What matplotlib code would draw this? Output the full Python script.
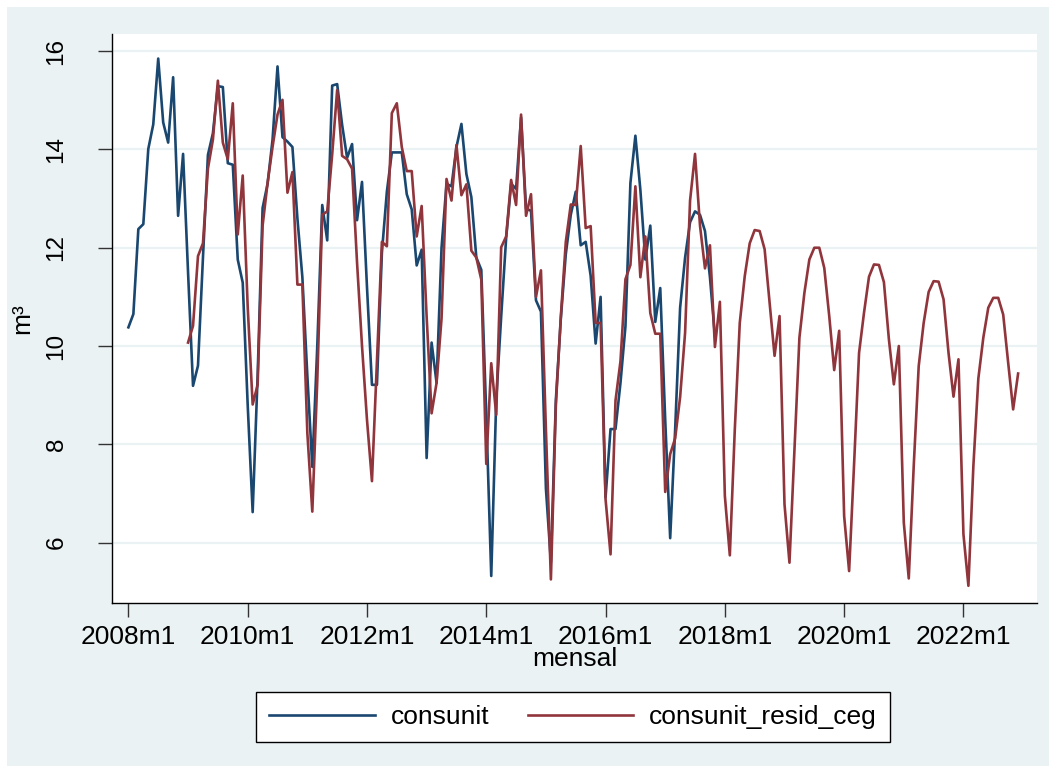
import matplotlib
matplotlib.use("Agg")
import matplotlib.pyplot as plt
from matplotlib.patches import Rectangle
from matplotlib.lines import Line2D
import numpy as np

plt.rcParams['font.family'] = ['Liberation Sans', 'DejaVu Sans']

# ---------------- data ----------------
tick_labels = ["2008m1", "2010m1", "2012m1", "2014m1", "2016m1",
               "2018m1", "2020m1", "2022m1"]
y_ticks = [6, 8, 10, 12, 14, 16]

# consunit: monthly, starting 2008m1
consunit_start = 0  # months after 2008m1
consunit = [
    10.38, 10.65, 12.38, 12.48, 14.01, 14.51, 15.85, 14.55, 14.14, 15.47, 12.65, 13.91,  # 2008
    11.50, 9.19, 9.60, 11.80, 13.89, 14.33, 15.29, 15.27, 13.72, 13.69, 11.76, 11.29,    # 2009
    8.80, 6.62, 9.40, 12.81, 13.30, 14.20, 15.69, 14.25, 14.16, 14.05, 12.60, 11.40,     # 2010
    9.40, 7.54, 10.00, 12.87, 12.15, 15.30, 15.33, 14.50, 13.83, 14.11, 12.56, 13.34,    # 2011
    11.20, 9.21, 9.21, 11.90, 13.14, 13.94, 13.94, 13.94, 13.09, 12.78, 11.64, 11.96,    # 2012
    7.72, 10.07, 9.25, 12.00, 13.30, 13.25, 14.05, 14.52, 13.50, 13.03, 11.80, 11.55,    # 2013
    8.60, 5.32, 8.90, 10.60, 12.20, 13.30, 13.20, 14.65, 12.80, 12.75, 10.93, 10.70,     # 2014
    7.10, 5.60, 8.90, 10.56, 11.87, 12.67, 13.14, 12.05, 12.12, 11.43, 10.05, 11.00,     # 2015
    6.92, 8.31, 8.31, 9.25, 10.40, 13.32, 14.28, 13.18, 11.76, 12.45, 10.49, 11.18,      # 2016
    8.50, 6.09, 8.30, 10.78, 11.80, 12.52, 12.74, 12.67, 12.34, 11.40, 10.20,            # 2017
]

# consunit_resid_ceg: monthly, starting 2009m1
resid_start = 12  # months after 2008m1
consunit_resid_ceg = [
    10.07, 10.41, 11.83, 12.09, 13.61, 14.20, 15.40, 14.14, 13.80, 14.94, 12.27, 13.47,  # 2009
    10.80, 8.81, 9.21, 12.45, 13.32, 14.05, 14.71, 15.01, 13.12, 13.54, 11.25, 11.25,    # 2010
    8.23, 6.63, 9.30, 12.67, 12.74, 13.90, 15.21, 13.87, 13.80, 13.61, 11.70, 10.00,     # 2011
    8.50, 7.25, 9.70, 12.12, 12.03, 14.74, 14.94, 14.05, 13.56, 13.56, 12.23, 12.85,     # 2012
    10.60, 8.63, 9.25, 10.56, 13.40, 12.96, 14.09, 13.07, 13.29, 11.94, 11.80, 11.35,    # 2013
    7.60, 9.65, 8.60, 12.01, 12.23, 13.38, 12.87, 14.71, 12.65, 13.09, 11.00, 11.54,     # 2014
    8.30, 5.25, 8.80, 10.60, 12.12, 12.88, 12.87, 14.07, 12.40, 12.44, 10.47, 10.47,     # 2015
    6.88, 5.76, 8.89, 9.69, 11.36, 11.65, 13.25, 11.40, 12.23, 10.67, 10.25, 10.25,      # 2016
    7.03, 7.80, 8.12, 8.96, 10.27, 12.96, 13.91, 12.45, 11.58, 12.05, 9.98, 10.90,       # 2017
    6.95, 5.74, 8.30, 10.47, 11.42, 12.09, 12.36, 12.34, 11.97, 10.88, 9.80, 10.61,      # 2018
    6.78, 5.59, 7.90, 10.17, 11.08, 11.76, 12.00, 12.00, 11.59, 10.61, 9.51, 10.31,      # 2019
    6.54, 5.42, 7.60, 9.86, 10.68, 11.41, 11.66, 11.65, 11.30, 10.14, 9.22, 10.00,       # 2020
    6.41, 5.27, 7.56, 9.59, 10.47, 11.10, 11.32, 11.31, 10.95, 9.86, 8.97, 9.73,         # 2021
    6.17, 5.12, 7.56, 9.34, 10.17, 10.78, 10.98, 10.98, 10.64, 9.66, 8.71, 9.44,         # 2022
]

# ---------------- figure ----------------
W, H = 1056, 773
fig = plt.figure(figsize=(W / 100, H / 100), dpi=100)
fig.patch.set_facecolor('white')
fig.patches.append(Rectangle((7 / W, 7 / H), 1 - 14 / W, 1 - 14 / H,
                             transform=fig.transFigure, facecolor='#EAF2F3',
                             edgecolor='none', zorder=-10))

left, right, top, bottom = 112, 1037, 34, 603
ax = fig.add_axes([left / W, 1 - bottom / H, (right - left) / W, (bottom - top) / H])
ax.set_facecolor('white')

blue = '#1A476F'
red = '#90353B'
lw = 1.9

x_c = consunit_start + np.arange(len(consunit))
x_r = resid_start + np.arange(len(consunit_resid_ceg))
ax.plot(x_c, consunit, color=blue, lw=lw, zorder=3, label='consunit')
ax.plot(x_r, consunit_resid_ceg, color=red, lw=lw, zorder=3, label='consunit_resid_ceg')

ax.set_xlim(-3.3, 182.8)
ax.set_ylim(4.77, 16.35)

ax.set_xticks(np.arange(len(tick_labels)) * 24)
ax.set_xticklabels(tick_labels, fontsize=19)
ax.set_yticks(y_ticks)
ax.set_yticklabels([str(v) for v in y_ticks], fontsize=17.5, rotation=90, va='center')

ax.tick_params(axis='x', length=10, width=1, color='#333333', pad=6)
ax.tick_params(axis='y', length=10, width=1, color='#333333', pad=22)

ax.grid(axis='y', color='#EAF2F3', lw=1.6)
ax.set_axisbelow(True)

for s in ['top', 'right']:
    ax.spines[s].set_visible(False)
for s in ['left', 'bottom']:
    ax.spines[s].set_color('black')
    ax.spines[s].set_linewidth(1.0)

ax.set_xlabel('mensal', fontsize=19)
ax.xaxis.set_label_coords(0.5, (bottom - 647) / (bottom - top))
ax.set_ylabel('m³', fontsize=19)
ax.yaxis.set_label_coords((34 - left) / (right - left), 0.5)

handles = [Line2D([], [], color=blue, lw=lw), Line2D([], [], color=red, lw=lw)]
leg = fig.legend(handles, ['consunit', 'consunit_resid_ceg'], loc='center',
                 bbox_to_anchor=(573 / W, 1 - 717 / H), ncol=2, frameon=True,
                 fancybox=False, edgecolor='black', framealpha=1, fontsize=19,
                 handlelength=4.0, columnspacing=1.45, handletextpad=0.6,
                 borderpad=0.5)
leg.get_frame().set_linewidth(1.0)

fig.savefig('out.png', dpi=100, facecolor=fig.get_facecolor())
